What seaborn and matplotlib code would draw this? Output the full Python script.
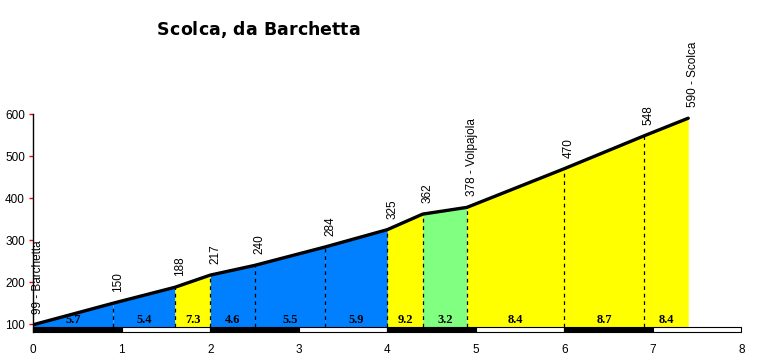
import matplotlib
matplotlib.use("Agg")
import matplotlib.pyplot as plt
from matplotlib.patches import Rectangle
import seaborn as sns
import pandas as pd

km = [0, 0.9, 1.6, 2.0, 2.5, 3.3, 4.0, 4.4, 4.9, 6.0, 6.9, 7.4]
alt = [99, 150, 188, 217, 240, 284, 325, 362, 378, 470, 548, 590]
point_labels = ["99 - Barchetta", "150", "188", "217", "240", "284", "325",
                "362", "378 - Volpajola", "470", "548", "590 - Scolca"]
grades = ["5.7", "5.4", "7.3", "4.6", "5.5", "5.9", "9.2", "3.2", "8.4", "8.7", "8.4"]
seg_colors = ["#0080FF", "#0080FF", "#FFFF00", "#0080FF", "#0080FF", "#0080FF",
              "#FFFF00", "#80FF80", "#FFFF00", "#FFFF00", "#FFFF00"]
x_ticks = [0, 1, 2, 3, 4, 5, 6, 7, 8]
y_ticks = [100, 200, 300, 400, 500, 600]
title = "Scolca, da Barchetta"

sns.set_style("white")
plt.rcParams['font.family'] = ['Liberation Sans', 'DejaVu Sans']
plt.rcParams['text.color'] = 'black'
plt.rcParams['xtick.color'] = 'black'
plt.rcParams['ytick.color'] = 'black'

fig = plt.figure(figsize=(7.8, 3.6), dpi=100)
ax = fig.add_axes([0.0427, 0.077, 0.9504 - 0.0427, 0.6833 - 0.077])

base = 94
df = pd.DataFrame({"km": km, "alt": alt})

for i in range(len(km) - 1):
    ax.fill_between(km[i:i + 2], alt[i:i + 2], base, color=seg_colors[i], lw=0, zorder=1)
    xm = (km[i] + km[i + 1]) / 2
    ax.text(xm, 110, grades[i], ha="center", va="center", fontsize=9,
            fontweight="bold", color="black",
            family=["Liberation Serif", "DejaVu Serif"], zorder=4)

for i in range(1, len(km) - 1):
    ax.plot([km[i], km[i]], [base, alt[i]], color="black", lw=0.9,
            ls=(0, (3, 3)), zorder=2)

sns.lineplot(data=df, x="km", y="alt", ax=ax, color="black", lw=2.4, zorder=3)

for k, a, lab in zip(km, alt, point_labels):
    ax.annotate(lab, (k, a), xytext=(3.5, 8), textcoords="offset points",
                rotation=90, ha="center", va="bottom", fontsize=8.5, color="black")

# km bar
for j in range(8):
    ax.add_patch(Rectangle((j, 81), 1, base - 81,
                           facecolor="black" if j % 2 == 0 else "white",
                           edgecolor="black", lw=0.8, zorder=3, clip_on=False))

ax.set_xlim(0, 8)
ax.set_ylim(81, 600)
ax.set_xticks(x_ticks)
ax.set_yticks(y_ticks)
ax.set_xlabel("")
ax.set_ylabel("")
for s in ["top", "right", "bottom"]:
    ax.spines[s].set_visible(False)
ax.spines["left"].set_color("black")
ax.spines["left"].set_linewidth(1.0)
ax.tick_params(axis="y", left=True, length=3, width=1.0, color="red",
               labelcolor="black", labelsize=8.5, pad=3)
ax.tick_params(axis="x", bottom=False, labelcolor="black", labelsize=8.5, pad=5)

# letter-spaced title
fig.canvas.draw()
renderer = fig.canvas.get_renderer()
x0_px, x1_px, y_px = 157, 360, 360 - 30
tprops = dict(fontsize=12.5, fontweight="bold", family=["DejaVu Sans"], color="black")


def text_w(s):
    t = fig.text(0, 0, s, **tprops)
    w = t.get_window_extent(renderer).width
    t.remove()
    return w


ref_w = text_w("x")
starts = [text_w(title[:i] + "x") - ref_w for i in range(len(title))]
total = starts[-1] + text_w(title[-1])
extra = (x1_px - x0_px - total) / (len(title) - 1)
for i, ch in enumerate(title):
    if ch != " ":
        fig.text((x0_px + starts[i] + i * extra) / 780, y_px / 360, ch,
                 ha="left", va="center", **tprops)

fig.savefig("out.png", dpi=100)
